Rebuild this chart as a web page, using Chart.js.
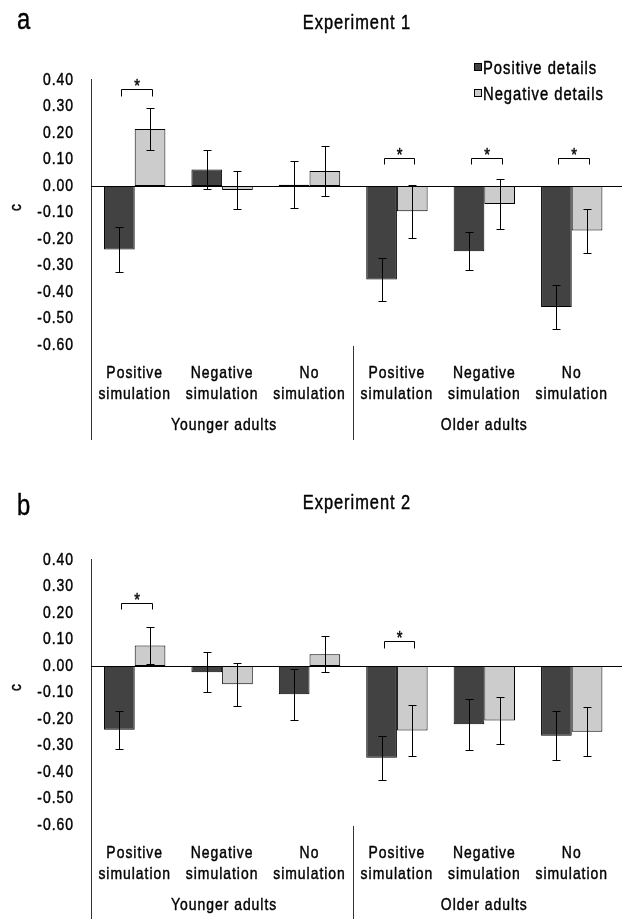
<!DOCTYPE html>
<html><head><meta charset="utf-8">
<script src="https://cdn.jsdelivr.net/npm/chart.js@4.4.1/dist/chart.umd.min.js"></script>
<style>
html,body{margin:0;padding:0;background:#fff;width:622px;height:919px;overflow:hidden;}
.p{position:absolute;left:0;width:627px;height:480px;}
</style></head><body>
<div class="p" style="top:0"><canvas id="c1" width="627" height="480"></canvas></div>
<div class="p" style="top:480px"><canvas id="c2" width="627" height="480"></canvas></div>
<script>
const categories = [['Positive','simulation'],['Negative','simulation'],['No','simulation'],['Positive','simulation'],['Negative','simulation'],['No','simulation']];
const groups = ['Younger adults','Older adults'];
const seriesNames = ['Positive details','Negative details'];
const yTicks = [0.4,0.3,0.2,0.1,0,-0.1,-0.2,-0.3,-0.4,-0.5,-0.6];

const exp1Positive    = [-0.240, 0.062, 0.005, -0.353, -0.246, -0.457];
const exp1PositiveErr = [0.085, 0.072, 0.088, 0.081, 0.072, 0.082];
const exp1Negative    = [0.215, -0.015, 0.057, -0.095, -0.068, -0.168];
const exp1NegativeErr = [0.078, 0.070, 0.095, 0.100, 0.096, 0.083];
const exp1Sig         = [0.365, null, null, 0.107, 0.107, 0.107];

const exp2Positive    = [-0.241, -0.024, -0.107, -0.346, -0.220, -0.263];
const exp2PositiveErr = [0.072, 0.075, 0.097, 0.083, 0.096, 0.093];
const exp2Negative    = [0.077, -0.069, 0.044, -0.243, -0.206, -0.248];
const exp2NegativeErr = [0.069, 0.082, 0.068, 0.095, 0.089, 0.093];
const exp2Sig         = [0.239, null, null, 0.093, null, null];

const FONT = '"Liberation Sans", Arimo, Arial, sans-serif';
const SX = 0.82;        // horizontal condensing (narrow face)
const SPACING = '1.2px';
const DARK = '#424242', LIGHT = '#cccccc';

function condense(canvas){
  const ctx = canvas.getContext('2d');
  const orig = ctx.fillText.bind(ctx);
  const origStroke = ctx.strokeText.bind(ctx);
  ctx.fillText = function(t, x, y){
    this.save();
    this.translate(x, y);
    this.scale(SX, 1);
    orig(t, 0, 0);
    this.strokeStyle = this.fillStyle;
    this.lineWidth = 0.45;
    this.lineJoin = 'round';
    origStroke(t, 0, 0);
    this.restore();
  };
}

function ln(ctx, x1, y1, x2, y2){
  ctx.beginPath(); ctx.moveTo(x1, y1); ctx.lineTo(x2, y2); ctx.stroke();
}
function px(v){ return Math.round(v) + 0.5; }

const decor = {
  id: 'decor',
  beforeDraw(chart){ chart.ctx.letterSpacing = SPACING; },
  afterDatasetsDraw(chart, args, o){
    const {ctx, chartArea:a, scales:{x, y}} = chart;
    ctx.save();
    ctx.letterSpacing = SPACING;
    ctx.lineWidth = 1;
    ctx.strokeStyle = '#333';
    ln(ctx, px(a.left), a.top - 1, px(a.left), 440);
    const sx = (x.getPixelForValue(2) + x.getPixelForValue(3)) / 2;
    ln(ctx, px(sx), a.bottom + 1, px(sx), 440);
    ctx.strokeStyle = '#000';
    const y0 = px(y.getPixelForValue(0));
    ln(ctx, a.left, y0, chart.width, y0);
    chart.data.datasets.forEach((ds, di) => {
      const meta = chart.getDatasetMeta(di);
      meta.data.forEach((bar, i) => {
        const v = ds.data[i], e = ds.errors[i];
        const cx = px(bar.x);
        const yt = px(y.getPixelForValue(v + e)), yb = px(y.getPixelForValue(v - e));
        ln(ctx, cx, yt, cx, yb);
        ln(ctx, cx - 4, yt, cx + 4, yt);
        ln(ctx, cx - 4, yb, cx + 4, yb);
      });
    });
    const m0 = chart.getDatasetMeta(0), m1 = chart.getDatasetMeta(1);
    ctx.fillStyle = '#000';
    ctx.font = '18px ' + FONT;
    ctx.textAlign = 'center';
    ctx.textBaseline = 'alphabetic';
    o.sig.forEach((s, i) => {
      if (s === null) return;
      const xl = px(m0.data[i].x + 2), xr = px(m1.data[i].x + 2);
      const yt = px(y.getPixelForValue(s));
      const yl = px(y.getPixelForValue(s - 0.025));
      ctx.strokeStyle = '#000'; ctx.lineWidth = 1;
      ctx.beginPath(); ctx.moveTo(xl, yl); ctx.lineTo(xl, yt); ctx.lineTo(xr, yt); ctx.lineTo(xr, yl); ctx.stroke();
      ctx.fillText('*', (xl + xr) / 2 + 0.5, yt + 2);
    });
    ctx.restore();
  },
  afterDraw(chart, args, o){
    const {ctx, chartArea:a, scales:{x, y}} = chart;
    ctx.save();
    ctx.letterSpacing = SPACING;
    ctx.fillStyle = '#000';
    ctx.font = '29px ' + FONT;
    ctx.textAlign = 'left'; ctx.textBaseline = 'alphabetic';
    ctx.fillText(o.letter, 17, o.letterBase);
    ctx.font = '20px ' + FONT;
    ctx.textAlign = 'center';
    ctx.fillText(o.title, 357, 29);
    ctx.font = '17px ' + FONT;
    const g1 = (a.left + (x.getPixelForValue(2) + x.getPixelForValue(3)) / 2) / 2;
    const g2 = (x.getPixelForValue(3) + x.getPixelForValue(5)) / 2;
    ctx.fillText(groups[0], g1 + 2, 430);
    ctx.fillText(groups[1], g2, 430);
    ctx.save();
    ctx.translate(16, 207);
    ctx.rotate(-Math.PI / 2);
    ctx.textBaseline = 'middle';
    ctx.fillText('c', 0, 0);
    ctx.restore();
    if (o.legend) {
      ctx.textAlign = 'left';
      ctx.font = '18px ' + FONT;
      chart.data.datasets.forEach((ds, i) => {
        const by = 63 + i * 26;
        ctx.fillStyle = ds.backgroundColor;
        ctx.fillRect(474, by, 7, 7);
        ctx.strokeStyle = '#000'; ctx.lineWidth = 1;
        ctx.strokeRect(474.5, by + 0.5, 7, 7);
        ctx.fillStyle = '#000';
        ctx.fillText(ds.label, 483, by + 11);
      });
    }
    ctx.restore();
  }
};

function makeChart(id, opts){
  const cv = document.getElementById(id);
  condense(cv);
  return new Chart(cv, {
    type: 'bar',
    data: {
      labels: categories,
      datasets: [
        {label: seriesNames[0], data: opts.pos, errors: opts.posErr, backgroundColor: DARK, borderColor: '#000', borderWidth: 1, borderSkipped: false},
        {label: seriesNames[1], data: opts.neg, errors: opts.negErr, backgroundColor: LIGHT, borderColor: '#000', borderWidth: 1, borderSkipped: false}
      ]
    },
    options: {
      responsive: false,
      animation: false,
      devicePixelRatio: 1,
      layout: {padding: {top: 80, bottom: 0, left: 0, right: 0}},
      datasets: {bar: {categoryPercentage: 0.702, barPercentage: 1}},
      plugins: {
        legend: {display: false},
        tooltip: {enabled: false},
        title: {display: false},
        decor: {letter: opts.letter, letterBase: opts.letterBase, title: opts.title, sig: opts.sig, legend: opts.legend}
      },
      scales: {
        x: {
          grid: {display: false, drawTicks: false},
          border: {display: false},
          ticks: {color: '#000', font: {family: FONT, size: 17, lineHeight: 1.28}, padding: 17, maxRotation: 0, autoSkip: false},
          afterFit(s){ s.height = 135; }
        },
        y: {
          min: -0.6, max: 0.4,
          grid: {display: false, drawTicks: false},
          border: {display: false},
          afterBuildTicks(s){ s.ticks = yTicks.map(v => ({value: v})); },
          ticks: {color: '#000', font: {family: FONT, size: 17}, padding: 17,
            callback: v => (Math.round(v * 100) / 100).toFixed(2)},
          afterFit(s){ s.width = 91; }
        }
      }
    },
    plugins: [decor]
  });
}

makeChart('c1', {pos: exp1Positive, posErr: exp1PositiveErr, neg: exp1Negative, negErr: exp1NegativeErr, sig: exp1Sig, letter: 'a', letterBase: 29, title: 'Experiment 1', legend: true});
makeChart('c2', {pos: exp2Positive, posErr: exp2PositiveErr, neg: exp2Negative, negErr: exp2NegativeErr, sig: exp2Sig, letter: 'b', letterBase: 35, title: 'Experiment 2', legend: false});
</script>
</body></html>
